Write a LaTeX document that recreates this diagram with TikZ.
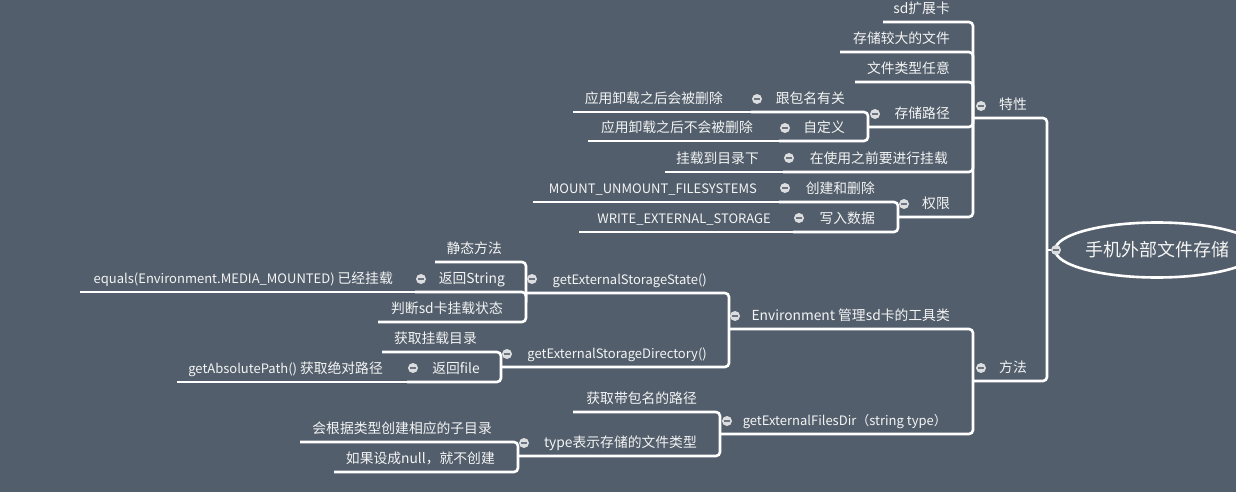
\documentclass[tikz,border=0pt]{standalone}
\usepackage{fontspec}
\setmainfont{Noto Sans CJK SC}
\usetikzlibrary{shapes.geometric}
\definecolor{bgc}{HTML}{525E6B}
\definecolor{linec}{HTML}{FFFFFF}
\definecolor{togc}{HTML}{DCDDDF}
\definecolor{minusc}{HTML}{6B7480}
\definecolor{txtc}{HTML}{F4F4F4}
\newcommand\mapnode[5]{\node[lbl] (#1) at (#2,#3) {#5}; \coordinate (#1-l) at (#4,#3);}
\newcommand\latnode[5]{\node[lbl, latin] (#1) at (#2,#3) {#5}; \coordinate (#1-l) at (#4,#3);}
\tikzset{
  conn/.style={draw=linec, line width=2.6pt, rounded corners=4pt},
  lbl/.style={text=txtc, font=\fontsize{13.8}{15}\selectfont, anchor=base east, inner sep=0pt, yshift=8.5pt},
  latin/.style={font=\fontsize{13}{15}\selectfont},
  toggle/.style={circle, fill=togc, minimum size=10pt, inner sep=0pt,
    path picture={\draw[line width=1.2pt, minusc] ([xshift=-2.6pt]path picture bounding box.center) -- ([xshift=2.6pt]path picture bounding box.center);}},
  rootnode/.style={ellipse, draw=linec, line width=2.6pt, minimum width=188pt, minimum height=55pt, inner sep=0pt, text=txtc, font=\fontsize{18}{20}\selectfont}
}
\begin{document}
\begin{tikzpicture}[x=1pt, y=-1pt]
\fill[bgc] (0,0) rectangle (1236,492);
\useasboundingbox (0,0) rectangle (1236,492);
% root
\node[rootnode] (root) at (1157,250) {手机外部文件存储};
\coordinate (root-l) at (1047,250);
\node[toggle] (t-root) at (1056,250) {};
% level 1
\mapnode{tx}{1027}{118}{973}{特性}
\mapnode{ff}{1027}{381}{973}{方法}
% children of 特性
\mapnode{a1}{950}{22}{883}{sd扩展卡}
\mapnode{a2}{950}{52}{840}{存储较大的文件}
\mapnode{a3}{950}{82}{855}{文件类型任意}
\mapnode{a4}{950}{127}{868}{存储路径}
\mapnode{a5}{948}{172}{783}{在使用之前要进行挂载}
\mapnode{a6}{950}{217}{898}{权限}
% children of 存储路径
\mapnode{b1}{845}{112}{751}{跟包名有关}
\mapnode{c1}{723}{112}{573}{应用卸载之后会被删除}
\mapnode{b2}{845}{141}{779}{自定义}
\mapnode{c2}{753}{141}{588}{应用卸载之后不会被删除}
\mapnode{c5}{759}{172}{665}{挂载到目录下}
% children of 权限
\mapnode{b3}{875}{202}{779}{创建和删除}
\latnode{c3}{757}{202}{533}{MOUNT\_UNMOUNT\_FILESYSTEMS}
\mapnode{b4}{875}{232}{793}{写入数据}
\latnode{c4}{771}{232}{579}{WRITE\_EXTERNAL\_STORAGE}
% children of 方法
\mapnode{d1}{950}{329}{729}{Environment 管理sd卡的工具类}
\latnode{d2}{947}{434}{720}{getExternalFilesDir（string type）}
\latnode{e1}{707}{293}{526}{getExternalStorageState()}
\latnode{e2}{707}{367}{501}{getExternalStorageDirectory()}
\mapnode{f1}{502}{262}{435}{静态方法}
\mapnode{f2}{505}{292}{415}{返回String}
\latnode{g1}{393}{292}{80}{equals(Environment.MEDIA\_MOUNTED) {\fontsize{13.8}{15}\selectfont 已经挂载}}
\mapnode{f3}{503}{322}{378}{判断sd卡挂载状态}
\mapnode{f4}{477}{352}{382}{获取挂载目录}
\mapnode{f5}{480}{382}{407}{返回file}
\latnode{g2}{383}{382}{177}{getAbsolutePath() {\fontsize{13.8}{15}\selectfont 获取绝对路径}}
\mapnode{f6}{697}{412}{573}{获取带包名的路径}
\mapnode{f7}{697}{456}{518}{type表示存储的文件类型}
\mapnode{g3}{492}{442}{300}{会根据类型创建相应的子目录}
\mapnode{g4}{495}{472}{334}{如果设成null，就不创建}
% connectors
\draw[conn] (tx-l) -| (root-l);
\draw[conn] (ff-l) -| (root-l);
\draw[conn] (root-l) -- (t-root);
\foreach \c in {a1,a2,a3,a4,a5,a6} \draw[conn] (\c-l) -| (tx-l);
\foreach \c in {b1,b2} \draw[conn] (\c-l) -| (a4-l);
\draw[conn] (c1-l) -- (b1-l);
\draw[conn] (c2-l) -- (b2-l);
\draw[conn] (c5-l) -- (a5-l);
\foreach \c in {b3,b4} \draw[conn] (\c-l) -| (a6-l);
\draw[conn] (c3-l) -- (b3-l);
\draw[conn] (c4-l) -- (b4-l);
\foreach \c in {d1,d2} \draw[conn] (\c-l) -| (ff-l);
\foreach \c in {e1,e2} \draw[conn] (\c-l) -| (d1-l);
\foreach \c in {f1,f2,f3} \draw[conn] (\c-l) -| (e1-l);
\draw[conn] (g1-l) -- (f2-l);
\foreach \c in {f4,f5} \draw[conn] (\c-l) -| (e2-l);
\draw[conn] (g2-l) -- (f5-l);
\foreach \c in {f6,f7} \draw[conn] (\c-l) -| (d2-l);
\foreach \c in {g3,g4} \draw[conn] (\c-l) -| (f7-l);
% toggles
\node[toggle] (t-tx) at (981,106) {};
\node[toggle] (t-ff) at (981,368) {};
\node[toggle] (t-a4) at (875,114) {};
\node[toggle] (t-a5) at (789,158) {};
\node[toggle] (t-a6) at (904,204) {};
\node[toggle] (t-b1) at (757,99) {};
\node[toggle] (t-b2) at (785,128) {};
\node[toggle] (t-b3) at (785,188) {};
\node[toggle] (t-b4) at (799,218) {};
\node[toggle] (t-d1) at (735,316) {};
\node[toggle] (t-d2) at (727,421) {};
\node[toggle] (t-e1) at (532,279) {};
\node[toggle] (t-e2) at (507,354) {};
\node[toggle] (t-f2) at (421,279) {};
\node[toggle] (t-f5) at (413,368) {};
\node[toggle] (t-f7) at (524,443) {};
\end{tikzpicture}
\end{document}
